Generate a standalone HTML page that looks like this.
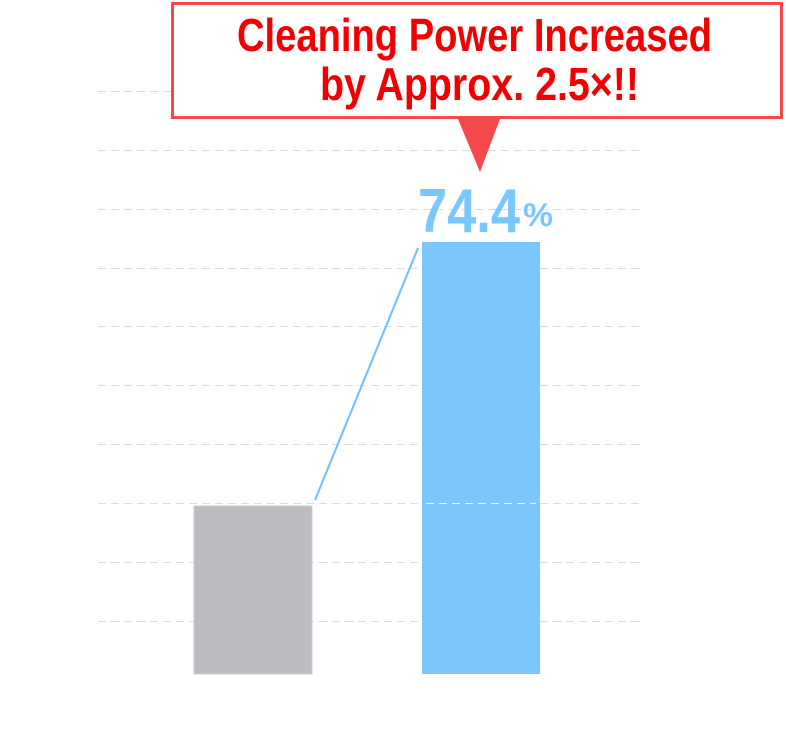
<!DOCTYPE html>
<html><head><meta charset="utf-8"><style>
html,body{margin:0;padding:0;background:#fff;}
svg{display:block;}
</style></head><body>
<svg width="786" height="734" viewBox="0 0 786 734" xmlns="http://www.w3.org/2000/svg">
<g stroke="#dcdcdc" stroke-width="1" stroke-dasharray="8,5">
<line x1="98" y1="91.5" x2="640" y2="91.5"/>
<line x1="98" y1="150.5" x2="640" y2="150.5"/>
<line x1="98" y1="209.5" x2="640" y2="209.5"/>
<line x1="98" y1="268.5" x2="640" y2="268.5"/>
<line x1="98" y1="326.5" x2="640" y2="326.5"/>
<line x1="98" y1="385.5" x2="640" y2="385.5"/>
<line x1="98" y1="444.5" x2="640" y2="444.5"/>
<line x1="98" y1="503.5" x2="640" y2="503.5"/>
<line x1="98" y1="562.5" x2="640" y2="562.5"/>
<line x1="98" y1="621.5" x2="640" y2="621.5"/>
</g>
<rect x="194" y="506" width="118" height="168" fill="#bdbbc0" stroke="#cfcdd1" stroke-width="1"/>
<rect x="422" y="242" width="118" height="432" fill="#7ac7fe"/>
<line x1="426" y1="503.5" x2="536" y2="503.5" stroke="#e6f3ff" stroke-dasharray="8,5"/>
<line x1="315" y1="500" x2="418" y2="248" stroke="#6cc0fb" stroke-width="2"/>
<rect x="172.5" y="3.5" width="609" height="114" fill="#fff" stroke="#f4484a" stroke-width="3"/>
<polygon points="458,119 500,119 480,172" fill="#f4484a"/>
<g font-family="'Liberation Sans Narrow','Liberation Sans',sans-serif" font-weight="bold" fill="#f00000" font-size="46">
<text x="237" y="51" textLength="475" lengthAdjust="spacingAndGlyphs">Cleaning Power Increased</text>
<text x="320" y="100" textLength="319" lengthAdjust="spacingAndGlyphs">by Approx. 2.5×!!</text>
</g>
<g font-family="'Liberation Sans Narrow','Liberation Sans',sans-serif" font-weight="bold" fill="#7ac7fe">
<text x="418" y="232" font-size="62" textLength="102" lengthAdjust="spacingAndGlyphs">74.4</text>
<text x="523" y="226" font-size="32" textLength="30" lengthAdjust="spacingAndGlyphs">%</text>
</g>
</svg>
</body></html>
